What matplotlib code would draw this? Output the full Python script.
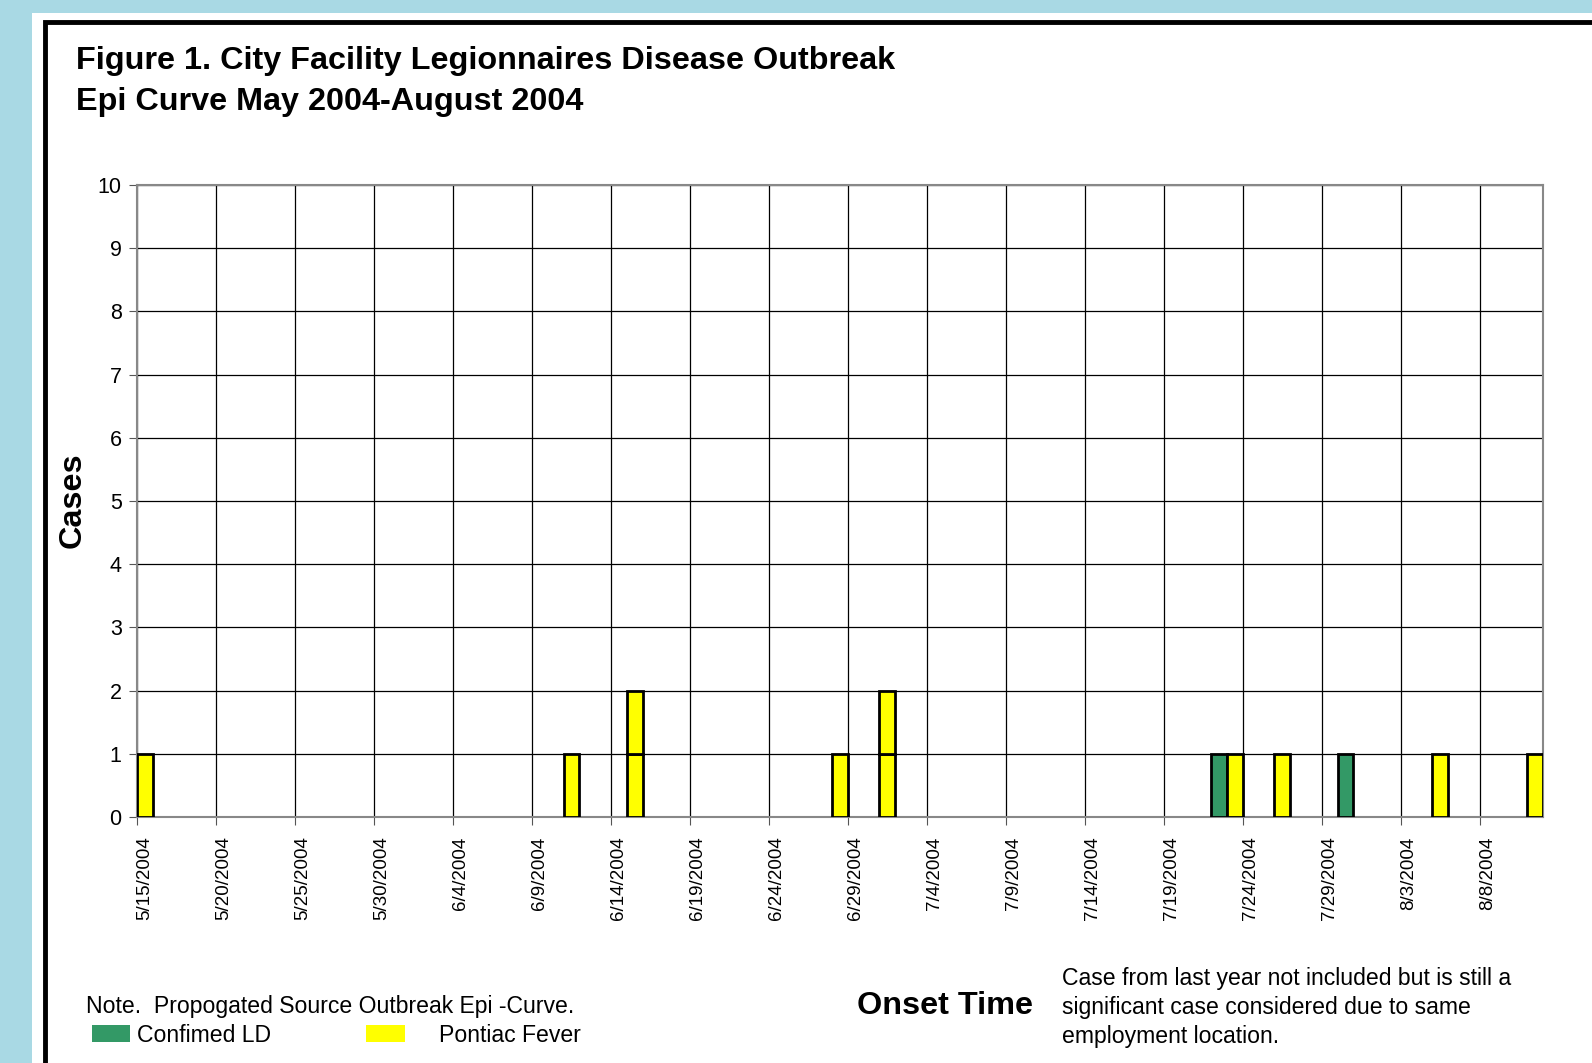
import matplotlib.pyplot as plt
import matplotlib.patches as mpatches
import pandas as pd

# onset dates (one entry per case)
confirmed_dates = ["7/22/2004", "7/30/2004"]
pontiac_dates = ["5/15/2004", "6/11/2004", "6/15/2004", "6/15/2004", "6/28/2004",
                 "7/1/2004", "7/1/2004", "7/23/2004", "7/26/2004", "8/5/2004", "8/11/2004"]
first_day = "5/15/2004"
last_day = "8/11/2004"
y_ticks = list(range(0, 11))

plt.rcParams['font.family'] = ['Liberation Sans', 'DejaVu Sans']


def main():
    days = pd.date_range(first_day, last_day, freq="D")
    confirmed = pd.to_datetime(pd.Series(confirmed_dates)).value_counts().reindex(days, fill_value=0)
    pontiac = pd.to_datetime(pd.Series(pontiac_dates)).value_counts().reindex(days, fill_value=0)
    labels = [f"{d.month}/{d.day}/{d.year}" for d in days]

    W, H = 1592, 1063
    fig = plt.figure(figsize=(W / 100, H / 100), dpi=100)
    fig.patch.set_facecolor("#a9d9e4")

    # white panel with the thick black frame
    fig.patches.append(mpatches.Rectangle((32 / W, -0.1), 1.2, (H - 13) / H + 0.1,
                                          transform=fig.transFigure, facecolor="white",
                                          edgecolor="none", zorder=-3))
    fig.patches.append(mpatches.Rectangle((45 / W, -0.1), 1.2, (H - 22) / H + 0.1,
                                          transform=fig.transFigure, facecolor="white",
                                          edgecolor="black", linewidth=3.5, zorder=-2))

    ax = fig.add_axes([137 / W, 1 - 817 / H, (1543 - 137) / W, (817 - 185) / H])
    ax.set_zorder(2)
    ax.set_facecolor("white")

    # each case is its own box, stacked day by day
    for i in range(len(days)):
        level = 0
        for n, color in [(confirmed.iloc[i], "#339966"), (pontiac.iloc[i], "#ffff00")]:
            for k in range(n):
                ax.bar(i, 1, width=1, bottom=level, align="edge", color=color,
                       edgecolor="black", linewidth=2, zorder=3)
                level += 1

    ax.set_xlim(0, len(days))
    ax.set_ylim(0, 10)
    ax.set_yticks(y_ticks)
    ax.set_xticks(range(0, len(days), 5))
    ax.set_xticklabels([])
    ax.set_xticks([i + 0.5 for i in range(0, len(days), 5)], minor=True)
    ax.set_xticklabels(labels[::5], minor=True, rotation=90, fontsize=13.5)
    ax.tick_params(axis="x", which="minor", length=0, pad=14)
    ax.tick_params(axis="x", which="major", length=6, color="#555555")
    ax.tick_params(axis="y", length=6, color="#555555", labelsize=15.5, pad=5)
    ax.grid(True, which="major", color="black", linewidth=0.9, zorder=1)
    for s in ax.spines.values():
        s.set_color("#888888")
        s.set_linewidth(1.5)

    fig.text(76 / W, 1 - 61 / H, "Figure 1. City Facility Legionnaires Disease Outbreak",
             fontsize=23.3, fontweight="bold", va="center", ha="left")
    fig.text(76 / W, 1 - 102 / H, "Epi Curve May 2004-August 2004",
             fontsize=23.3, fontweight="bold", va="center", ha="left")
    fig.text(73 / W, 1 - 500 / H, "Cases", fontsize=23.3, fontweight="bold",
             rotation=90, va="center", ha="center")
    fig.text(945 / W, 1 - 1006 / H, "Onset Time", fontsize=23.3, fontweight="bold",
             va="center", ha="center")

    fig.text(86 / W, 1 - 1007 / H, "Note.  Propogated Source Outbreak Epi -Curve.",
             fontsize=16.6, va="center", ha="left")
    fig.patches.append(mpatches.Rectangle((92 / W, 1 - 1042 / H), 38 / W, 17 / H,
                                          transform=fig.transFigure, facecolor="#339966",
                                          edgecolor="none"))
    fig.text(137 / W, 1 - 1035 / H, "Confimed LD", fontsize=16.6, va="center", ha="left")
    fig.patches.append(mpatches.Rectangle((366 / W, 1 - 1042 / H), 39 / W, 17 / H,
                                          transform=fig.transFigure, facecolor="#ffff00",
                                          edgecolor="none"))
    fig.text(439 / W, 1 - 1035 / H, "Pontiac Fever", fontsize=16.6, va="center", ha="left")

    note = ["Case from last year not included but is still a",
            "significant case considered due to same",
            "employment location."]
    for j, line in enumerate(note):
        fig.text(1062 / W, 1 - (979 + 28.5 * j) / H, line, fontsize=16.6,
                 va="center", ha="left")

    plt.savefig("out.png", dpi=100, facecolor=fig.get_facecolor())


main()
